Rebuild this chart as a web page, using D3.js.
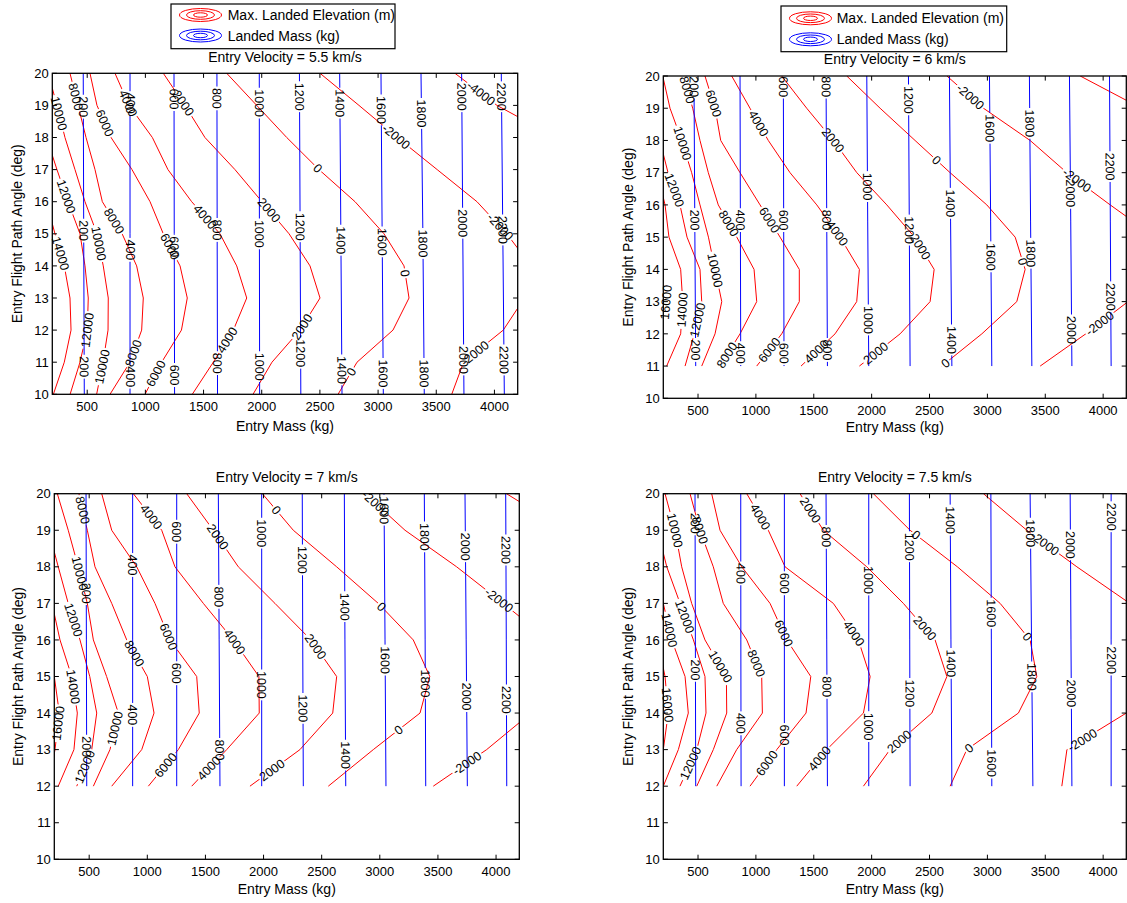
<!DOCTYPE html>
<html><head><meta charset="utf-8">
<script src="https://cdn.jsdelivr.net/npm/d3@7"></script>
<style>
body{margin:0;background:#fff;}
svg text{font-family:"Liberation Sans",Arial,Helvetica,sans-serif;fill:#000;}
</style></head><body>
<svg id="c" width="1127" height="903"></svg>
<script>
// ---------------- DATA ----------------
const xDomain = [200, 4200];
const yDomain = [10, 20];
const xTicks = [500, 1000, 1500, 2000, 2500, 3000, 3500, 4000];
const yTicks = [10, 11, 12, 13, 14, 15, 16, 17, 18, 19, 20];
const legendLabels = ["Max. Landed Elevation (m)", "Landed Mass (kg)"];
const titles = ["Entry Velocity = 5.5 km/s", "Entry Velocity = 6 km/s", "Entry Velocity = 7 km/s", "Entry Velocity = 7.5 km/s"];
const xLabel = "Entry Mass (kg)";
const yLabel = "Entry Flight Path Angle (deg)";

// Max landed elevation contours: [level, entry mass at each angle of the angle array]
const angles55 = [10, 11, 12, 13, 14, 15, 16, 17, 18, 19, 20];
const elev55 = [
  [14000, 209, 303, 361, 352, 303, 223, 150, 100, 60, 30, 0],
  [12000, 353, 438, 501, 509, 481, 438, 335, 240, 150, 100, 50],
  [10000, 581, 636, 679, 681, 638, 584, 481, 395, 309, 240, 165],
  [8000, 696, 868, 968, 982, 925, 800, 630, 567, 490, 421, 352],
  [6000, 997, 1140, 1310, 1360, 1298, 1154, 1040, 885, 705, 584, 524],
  [4000, 1403, 1584, 1756, 1871, 1785, 1641, 1398, 1194, 1060, 860, 739],
  [2000, 1925, 2088, 2329, 2501, 2415, 2235, 2002, 1770, 1512, 1340, 1154],
  [0, 2656, 2819, 3128, 3266, 3223, 3051, 2802, 2492, 2215, 1957, 1699],
  [-2000, 3633, 3735, 4076, 4258, 4315, 4106, 3850, 3508, 3165, 2836, 2501],
  [-4000, null, null, null, null, null, null, null, null, 4530, 4022, 3661]
];
const angles6 = [11, 12, 13, 14, 15, 16, 17, 18, 19, 20];
const elev6 = [
  [16000, null, 150, 225, 150, null, null, null, null, null, null],
  [14000, 229, 350, 368, 350, 249, 215, 150, 100, 60, 20],
  [12000, 388, 468, 532, 517, 405, 344, 241, 170, 120, 80],
  [10000, 532, 647, 705, 647, 590, 517, 445, 359, 258, 195],
  [8000, 690, 863, 1007, 984, 835, 675, 589, 517, 454, 373],
  [6000, 1007, 1223, 1375, 1375, 1209, 1036, 863, 696, 647, 560],
  [4000, 1390, 1684, 1871, 1894, 1727, 1526, 1295, 1107, 949, 791],
  [2000, 1894, 2246, 2505, 2540, 2370, 2131, 1872, 1669, 1439, 1223],
  [0, 2606, 2952, 3254, 3326, 3240, 2995, 2678, 2375, 2073, 1785],
  [-2000, 3456, 3850, 4215, 4500, 4450, 4061, 3687, 3369, 2966, 2650],
  [-4000, null, null, null, null, null, null, null, 4800, 4330, 3802]
];
const angles7 = [12, 13, 14, 15, 16, 17, 18, 19, 20];
const elev7 = [
  [16000, 150, 206, 243, 200, 150, null, null, null, null],
  [14000, 234, 369, 398, 350, 249, 180, 120, 80, 40],
  [12000, 393, 522, 565, 505, 421, 320, 234, 150, 100],
  [10000, 536, 679, 751, 650, 536, 484, 406, 320, 226],
  [8000, 694, 952, 1058, 1000, 823, 694, 550, 484, 412],
  [6000, 1009, 1267, 1447, 1425, 1195, 1066, 909, 694, 608],
  [4000, 1382, 1683, 1963, 1960, 1740, 1482, 1238, 1124, 880],
  [2000, 1883, 2313, 2595, 2629, 2408, 2098, 1783, 1568, 1339],
  [0, 2557, 2944, 3346, 3430, 3288, 2987, 2629, 2256, 1990],
  [-2000, 3460, 3919, 4300, 4600, 4450, 4062, 3661, 3217, 2873],
  [-4000, null, null, null, null, null, null, null, 4600, 4090]
];
const angles75 = [12, 13, 14, 15, 16, 17, 18, 19, 20];
const elev75 = [
  [16000, 150, 200, 243, 215, 150, null, null, null, null],
  [14000, 200, 330, 416, 388, 273, 200, 130, 80, 40],
  [12000, 344, 489, 569, 560, 460, 345, 230, 150, 100],
  [10000, 489, 632, 748, 745, 560, 445, 359, 301, 215],
  [8000, 662, 834, 1056, 1050, 921, 718, 632, 517, 431],
  [6000, 949, 1180, 1433, 1474, 1267, 1122, 878, 690, 618],
  [4000, 1353, 1612, 1929, 1987, 1885, 1669, 1252, 1107, 921],
  [2000, 1929, 2159, 2520, 2650, 2548, 2274, 1958, 1583, 1381],
  [0, 2678, 2822, 3268, 3427, 3369, 3110, 2741, 2332, 2015],
  [-2000, 3643, 3687, 4200, 4550, 4500, 4230, 3773, 3341, 2966]
];

// Landed mass contours: [level, entry mass at each angle of the mass-angle array]
const massAng55 = [10, 15, 20];
const mass55 = [[200,475,470,466],[400,868,868,868],[600,1251,1248,1246],[800,1620,1617,1615],[1000,1982,1980,1979],[1200,2336,2330,2324],[1400,2690,2680,2670],[1600,3045,3035,3025],[1800,3397,3385,3369],[2000,3738,3728,3718],[2200,4085,4072,4059]];
const massAng6 = [11, 15.5, 20];
const mass6 = [[200,480,472,465],[400,869,866,863],[600,1243,1240,1237],[800,1618,1612,1606],[1000,1975,1966,1958],[1200,2332,2325,2318],[1400,2693,2682,2672],[1600,3038,3028,3018],[1800,3384,3373,3363],[2000,3730,3720,3709],[2200,4069,4062,4055]];
const massAng7 = [12, 16, 20];
const mass7 = [[200,479,476,473],[400,874,874,874],[600,1253,1253,1253],[800,1625,1618,1611],[1000,1984,1984,1984],[1200,2342,2337,2333],[1400,2707,2700,2695],[1600,3053,3045,3036],[1800,3395,3390,3383],[2000,3753,3743,3733],[2200,4092,4088,4083]];
const massAng75 = [12, 16, 20];
const mass75 = [[200,480,477,474],[400,872,870,869],[600,1246,1246,1246],[800,1618,1612,1606],[1000,1975,1975,1975],[1200,2332,2329,2326],[1400,2693,2685,2678],[1600,3038,3034,3030],[1800,3393,3381,3369],[2000,3730,3722,3715],[2200,4069,4069,4069]];

// Contour labels: [level, angle where the label sits]
const elevLab55 = [[14000,14.39],[12000,16.16],[12000,12.0],[10000,18.75],[10000,14.7],[10000,10.86],[8000,19.27],[8000,15.4],[8000,11.28],[6000,18.45],[6000,14.6],[6000,10.65],[4000,19.07],[4000,15.53],[4000,11.69],[2000,19.07],[2000,15.74],[2000,12.1],[0,17.04],[0,13.77],[0,10.7],[-2000,18.03],[-2000,15.22],[-2000,11.28],[-4000,19.38]];
const massLab55 = [[200,18.96],[200,15.1],[200,10.86],[400,19.07],[400,14.5],[400,10.55],[600,19.2],[600,14.6],[600,10.6],[800,19.22],[800,15.12],[800,10.97],[1000,19.07],[1000,15.0],[1000,10.86],[1200,19.27],[1200,15.22],[1200,11.28],[1400,19.07],[1400,14.8],[1400,10.76],[1600,18.86],[1600,14.75],[1600,10.65],[1800,18.75],[1800,14.7],[1800,10.65],[2000,19.27],[2000,15.33],[2000,11.07],[2200,19.27],[2200,15.12],[2200,11.07]];
const elevLab6 = [[16000,12.98],[14000,12.74],[12000,16.46],[12000,12.43],[10000,17.91],[10000,13.98],[8000,19.57],[8000,15.43],[8000,11.34],[6000,19.15],[6000,15.53],[6000,11.5],[4000,18.53],[4000,15.12],[4000,11.45],[2000,18.01],[2000,14.7],[2000,11.4],[0,17.39],[0,14.24],[0,11.09],[-2000,19.36],[-2000,16.77],[-2000,12.33]];
const massLab6 = [[200,19.67],[200,15.53],[200,11.5],[400,15.53],[400,11.4],[600,19.67],[600,15.53],[600,11.4],[800,19.67],[800,15.53],[800,11.5],[1000,16.57],[1000,12.43],[1200,19.26],[1200,15.22],[1400,16.05],[1400,11.81],[1600,18.38],[1600,14.39],[1800,18.53],[1800,14.5],[2000,16.36],[2000,12.12],[2200,17.19],[2200,13.15]];
const elevLab7 = [[16000,13.72],[14000,14.72],[12000,16.55],[12000,12.53],[10000,17.82],[10000,13.58],[8000,19.55],[8000,15.63],[6000,16.09],[6000,12.58],[4000,19.37],[4000,15.95],[4000,12.49],[2000,18.82],[2000,15.82],[2000,12.44],[0,19.55],[0,16.91],[0,13.54],[-2000,19.74],[-2000,17.09],[-2000,12.63]];
const massLab7 = [[200,17.28],[200,13.08],[400,18.05],[400,13.95],[600,18.96],[600,15.09],[800,17.18],[800,12.99],[1000,18.92],[1000,14.77],[1200,18.19],[1200,14.13],[1400,16.91],[1400,12.85],[1600,19.55],[1600,15.45],[1800,18.82],[1800,14.81],[2000,18.55],[2000,14.45],[2200,18.46],[2200,14.36]];
const elevLab75 = [[16000,14.22],[14000,16.27],[12000,16.64],[12000,12.63],[10000,19.0],[10000,15.27],[8000,19.0],[8000,15.36],[6000,16.18],[6000,12.63],[4000,19.37],[4000,16.18],[4000,12.76],[2000,19.55],[2000,16.32],[2000,13.22],[0,18.87],[0,16.09],[0,13.04],[-2000,18.64],[-2000,13.26]];
const massLab75 = [[200,19.19],[200,15.18],[400,17.82],[400,13.72],[600,17.55],[600,13.4],[800,18.82],[800,14.72],[1000,17.64],[1000,13.63],[1200,18.55],[1200,14.54],[1400,19.28],[1400,15.36],[1600,16.73],[1600,12.63],[1800,18.92],[1800,14.99],[2000,18.6],[2000,14.54],[2200,19.37],[2200,15.45]];

// ---------------- LAYOUT ----------------
const panels = [
  {id:"A", title:titles[0], L:52.3, T:73.3, W:465.4, H:321, ang:angles55, elev:elev55, mAng:massAng55, mass:mass55, eLab:elevLab55, mLab:massLab55,
   legend:{x:171, y:4, w:224, h:44.7, r1:15, r2:35.5, ix:200.5, tx:227.7}, titleY:61.5, xlabY:431, ylabX:17.5},
  {id:"B", title:titles[1], L:663.3, T:76, W:463, H:322.3, ang:angles6, elev:elev6, mAng:massAng6, mass:mass6, eLab:elevLab6, mLab:massLab6,
   legend:{x:781, y:6, w:225.7, h:45.7, r1:18.3, r2:39.3, ix:810.5, tx:836.7}, titleY:64, xlabY:432, ylabX:628.3},
  {id:"C", title:titles[2], L:54.3, T:493.7, W:465, H:365.6, ang:angles7, elev:elev7, mAng:massAng7, mass:mass7, eLab:elevLab7, mLab:massLab7,
   legend:null, titleY:482, xlabY:894, ylabX:18.3},
  {id:"D", title:titles[3], L:663.3, T:493.7, W:463, H:365.6, ang:angles75, elev:elev75, mAng:massAng75, mass:mass75, eLab:elevLab75, mLab:massLab75,
   legend:null, titleY:482, xlabY:894, ylabX:628.3}
];

const RED = "#ff0000", BLUE = "#0000ff";
const svg = d3.select("#c");
const defs = svg.append("defs");

function valAt(ang, vals, a) {
  for (let i = 0; i < ang.length - 1; i++) {
    if (a >= ang[i] && a <= ang[i + 1] && vals[i] != null && vals[i + 1] != null) {
      const t = (a - ang[i]) / (ang[i + 1] - ang[i]);
      return vals[i] + t * (vals[i + 1] - vals[i]);
    }
  }
  return null;
}

function drawPanel(c) {
  const x = d3.scaleLinear().domain(xDomain).range([0, c.W]);
  const y = d3.scaleLinear().domain(yDomain).range([c.H, 0]);
  const g = svg.append("g").attr("transform", `translate(${c.L},${c.T})`);

  defs.append("clipPath").attr("id", "clip" + c.id)
    .append("rect").attr("x", 0).attr("y", 0).attr("width", c.W).attr("height", c.H);
  const masks = {};
  ["E", "M"].forEach(k => {
    const m = defs.append("mask").attr("id", "m" + k + c.id).attr("maskUnits", "userSpaceOnUse")
      .attr("x", -10).attr("y", -10).attr("width", c.W + 20).attr("height", c.H + 20);
    m.append("rect").attr("x", -10).attr("y", -10).attr("width", c.W + 20).attr("height", c.H + 20).attr("fill", "#fff");
    masks[k] = m;
  });

  const line = d3.line().defined(d => d[0] != null).x(d => x(d[0])).y(d => y(d[1]));
  const clipG = g.append("g").attr("clip-path", `url(#clip${c.id})`);
  const eG = clipG.append("g").attr("mask", `url(#mE${c.id})`);
  const mG = clipG.append("g").attr("mask", `url(#mM${c.id})`);

  c.elev.forEach(row => {
    const pts = c.ang.map((a, i) => [row[i + 1], a]);
    eG.append("path").attr("d", line(pts)).attr("fill", "none").attr("stroke", RED).attr("stroke-width", 1);
  });
  c.mass.forEach(row => {
    const pts = c.mAng.map((a, i) => [row[i + 1], a]);
    mG.append("path").attr("d", line(pts)).attr("fill", "none").attr("stroke", BLUE).attr("stroke-width", 1);
  });

  // labels
  const labG = g.append("g");
  function addLabel(ang, vals, level, a, maskKey) {
    const m = valAt(ang, vals, a);
    if (m == null) return;
    const px = x(m), py = y(a);
    const lo = Math.max(ang[0], a - 0.06), hi = Math.min(ang[ang.length - 1], a + 0.06);
    const m1 = valAt(ang, vals, hi), m2 = valAt(ang, vals, lo);
    let deg = 90;
    if (m1 != null && m2 != null) {
      const dx = x(m2) - x(m1), dy = y(lo) - y(hi);
      deg = Math.atan2(dy, dx) * 180 / Math.PI;
      if (deg > 90) deg -= 180;
      if (deg <= -90) deg += 180;
    }
    const t = labG.append("text")
      .attr("transform", `translate(${px},${py}) rotate(${deg})`)
      .attr("text-anchor", "middle").attr("dy", "0.35em")
      .attr("font-size", "12.5px").text(String(level));
    const wdt = t.node().getComputedTextLength();
    masks[maskKey].append("rect")
      .attr("transform", `translate(${px},${py}) rotate(${deg})`)
      .attr("x", -wdt / 2 - 1.5).attr("y", -5.5).attr("width", wdt + 3).attr("height", 11).attr("fill", "#000");
  }
  c.eLab.forEach(([lev, a]) => {
    const row = c.elev.find(r => r[0] === lev);
    addLabel(c.ang, row.slice(1), lev, a, "E");
  });
  c.mLab.forEach(([lev, a]) => {
    const row = c.mass.find(r => r[0] === lev);
    addLabel(c.mAng, row.slice(1), lev, a, "M");
  });

  // axes box and ticks
  const tl = 4.6;
  const ax = g.append("g").attr("stroke", "#000").attr("stroke-width", 1);
  xTicks.forEach(v => {
    ax.append("line").attr("x1", x(v)).attr("x2", x(v)).attr("y1", c.H).attr("y2", c.H - tl);
    ax.append("line").attr("x1", x(v)).attr("x2", x(v)).attr("y1", 0).attr("y2", tl);
  });
  yTicks.forEach(v => {
    ax.append("line").attr("x1", 0).attr("x2", tl).attr("y1", y(v)).attr("y2", y(v));
    ax.append("line").attr("x1", c.W).attr("x2", c.W - tl).attr("y1", y(v)).attr("y2", y(v));
  });
  g.append("rect").attr("x", 0).attr("y", 0).attr("width", c.W).attr("height", c.H)
    .attr("fill", "none").attr("stroke", "#000").attr("stroke-width", 1.3);

  xTicks.forEach(v => {
    g.append("text").attr("x", x(v)).attr("y", c.H + 17).attr("text-anchor", "middle")
      .attr("font-size", "13px").text(v);
  });
  yTicks.forEach(v => {
    g.append("text").attr("x", -3.5).attr("y", y(v)).attr("dy", "0.36em").attr("text-anchor", "end")
      .attr("font-size", "13px").text(v);
  });

  // title and axis labels
  svg.append("text").attr("x", c.L + c.W / 2).attr("y", c.titleY).attr("text-anchor", "middle")
    .attr("font-size", "14px").text(c.title);
  svg.append("text").attr("x", c.L + c.W / 2).attr("y", c.xlabY).attr("text-anchor", "middle")
    .attr("font-size", "14px").text(xLabel);
  svg.append("text").attr("transform", `translate(${c.ylabX},${c.T + c.H / 2}) rotate(-90)`)
    .attr("text-anchor", "middle").attr("dy", "0.35em").attr("font-size", "14px").text(yLabel);

  // legend
  if (c.legend) {
    const lg = c.legend;
    svg.append("rect").attr("x", lg.x).attr("y", lg.y).attr("width", lg.w).attr("height", lg.h)
      .attr("fill", "#fff").attr("stroke", "#000").attr("stroke-width", 1.2);
    [[lg.r1, RED, legendLabels[0]], [lg.r2, BLUE, legendLabels[1]]].forEach(([cy, col, txt]) => {
      [[21, 6.5], [14, 4.3], [7, 2.2]].forEach(([rx, ry]) => {
        svg.append("ellipse").attr("cx", lg.ix).attr("cy", cy).attr("rx", rx).attr("ry", ry)
          .attr("fill", "none").attr("stroke", col).attr("stroke-width", 1);
      });
      svg.append("text").attr("x", lg.tx).attr("y", cy).attr("dy", "0.36em").attr("font-size", "14px").text(txt);
    });
  }
}

panels.forEach(drawPanel);
</script>
</body></html>
